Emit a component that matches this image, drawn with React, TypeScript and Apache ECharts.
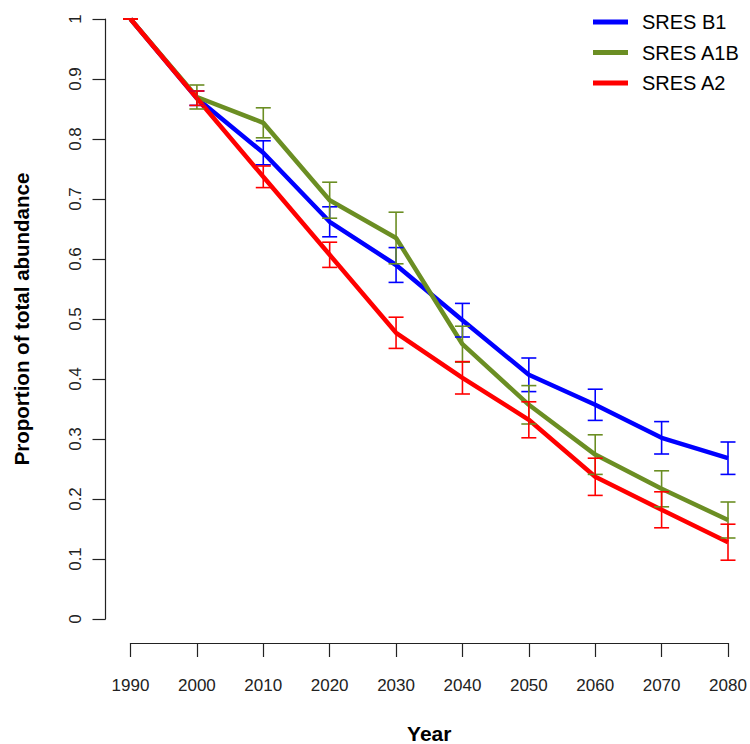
import React, { useEffect, useRef } from "react";
import * as echarts from "echarts";

const years = [1990, 2000, 2010, 2020, 2030, 2040, 2050, 2060, 2070, 2080];
const seriesNames = ["SRES B1", "SRES A1B", "SRES A2"];
const seriesColors = ["#0000FF", "#6B8E23", "#FF0000"];

const b1Mean = [1.0, 0.868, 0.777, 0.662, 0.59, 0.498, 0.407, 0.357, 0.302, 0.268];
const b1Err = [0, 0.012, 0.02, 0.025, 0.029, 0.028, 0.028, 0.026, 0.027, 0.027];
const a1bMean = [1.0, 0.87, 0.827, 0.698, 0.635, 0.458, 0.357, 0.274, 0.217, 0.165];
const a1bErr = [0, 0.02, 0.025, 0.03, 0.043, 0.03, 0.032, 0.033, 0.03, 0.03];
const a2Mean = [1.0, 0.868, 0.737, 0.607, 0.477, 0.402, 0.332, 0.237, 0.182, 0.128];
const a2Err = [0, 0.012, 0.018, 0.021, 0.026, 0.027, 0.03, 0.031, 0.03, 0.03];

const means = [b1Mean, a1bMean, a2Mean];
const errs = [b1Err, a1bErr, a2Err];

const FONT = "'Liberation Sans', Arial, sans-serif";

export default function App() {
  const ref = useRef<HTMLDivElement>(null);
  useEffect(() => {
    if (!ref.current) return;
    document.body.style.margin = "0";
    const chart = echarts.init(ref.current, null, { renderer: "svg" });
    const lineSeries = seriesNames.map((name, i) => ({
      name,
      type: "line",
      data: years.map((y, j) => [y, means[i][j]]),
      showSymbol: false,
      symbol: "none",
      clip: false,
      lineStyle: { color: seriesColors[i], width: 4.5 },
      itemStyle: { color: seriesColors[i] },
      z: 2,
    }));
    const errSeries = seriesNames.map((name, i) => ({
      name: name + " err",
      type: "custom",
      clip: false,
      z: 3,
      encode: { x: 0, y: [1, 2] },
      data: years.map((y, j) => [y, means[i][j] - errs[i][j], means[i][j] + errs[i][j]]),
      renderItem: (params: any, api: any) => {
        const x = api.value(0);
        const lo = api.coord([x, api.value(1)]);
        const hi = api.coord([x, api.value(2)]);
        const w = 7.5;
        const style = { stroke: seriesColors[i], lineWidth: 1.6 };
        return {
          type: "group",
          children: [
            { type: "line", shape: { x1: lo[0], y1: lo[1], x2: hi[0], y2: hi[1] }, style },
            { type: "line", shape: { x1: lo[0] - w, y1: lo[1], x2: lo[0] + w, y2: lo[1] }, style },
            { type: "line", shape: { x1: hi[0] - w, y1: hi[1], x2: hi[0] + w, y2: hi[1] }, style },
          ],
        };
      },
    }));
    chart.setOption({
      animation: false,
      backgroundColor: "#ffffff",
      grid: {
        left: 130.5,
        right: 22,
        top: 19,
        bottom: 125,
        containLabel: false,
        outerBoundsMode: "none",
      },
      legend: {
        data: seriesNames,
        orient: "vertical",
        left: 593,
        top: 12,
        padding: 0,
        icon: "rect",
        itemWidth: 35,
        itemHeight: 5,
        itemGap: 10.5,
        textStyle: {
          fontFamily: FONT,
          fontSize: 20,
          color: "#000",
          lineHeight: 20,
          padding: [0, 0, 0, 9],
        },
      },
      xAxis: {
        type: "value",
        min: 1990,
        max: 2080,
        interval: 10,
        offset: 24,
        name: "Year",
        nameLocation: "middle",
        nameGap: 80,
        nameTextStyle: { fontFamily: FONT, fontSize: 21, lineHeight: 21, fontWeight: "bold", color: "#000" },
        axisLine: { show: true, onZero: false, lineStyle: { color: "#222", width: 1.2 } },
        axisTick: { show: true, length: 14, lineStyle: { color: "#222", width: 1.2 } },
        axisLabel: { fontFamily: FONT, fontSize: 17, color: "#222", margin: 34, formatter: (v: number) => String(v) },
        splitLine: { show: false },
      },
      yAxis: {
        type: "value",
        min: 0,
        max: 1,
        interval: 0.1,
        offset: 25,
        name: "Proportion of total abundance",
        nameLocation: "middle",
        nameGap: 74,
        nameTextStyle: { fontFamily: FONT, fontSize: 20.5, fontWeight: "bold", color: "#000" },
        axisLine: { show: true, onZero: false, lineStyle: { color: "#222", width: 1.2 } },
        axisTick: { show: true, length: 13, lineStyle: { color: "#222", width: 1.2 } },
        axisLabel: {
          fontFamily: FONT,
          fontSize: 17,
          color: "#222",
          rotate: 90,
          margin: 22,
          formatter: (v: number) => String(Math.round(v * 10) / 10),
        },
        splitLine: { show: false },
      },
      series: [...lineSeries, ...errSeries],
    });
    return () => chart.dispose();
  }, []);
  return <div ref={ref} style={{ width: 750, height: 744, position: "absolute", left: 0, top: 0 }} />;
}
